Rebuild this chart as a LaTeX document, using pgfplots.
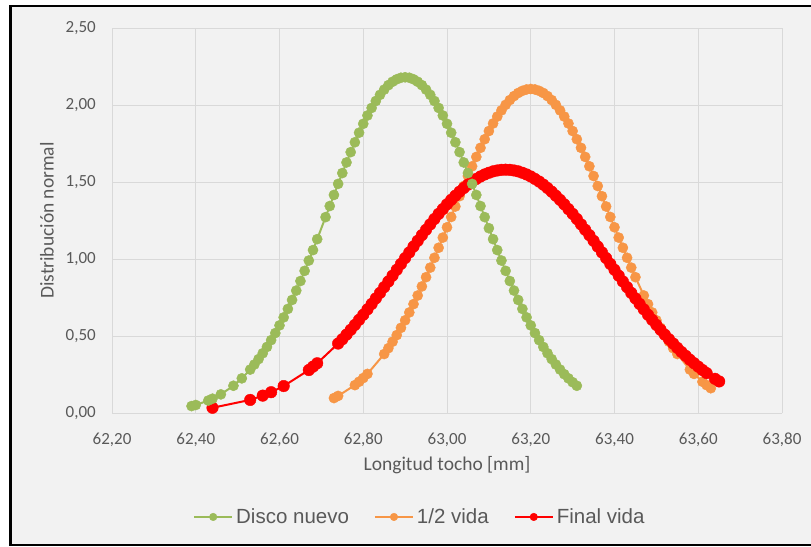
\documentclass[border=0pt]{standalone}
\usepackage{fontspec}
\setmainfont{Carlito}
\newfontfamily\legendfont{Liberation Sans}
\usepackage{pgfplots}
\pgfplotsset{compat=1.18}

\definecolor{grn}{HTML}{9BBB59}
\definecolor{org}{HTML}{F79646}
\definecolor{rd}{HTML}{FF0000}
\definecolor{bgc}{HTML}{F2F2F2}
\definecolor{gridc}{HTML}{D9D9D9}
\definecolor{txt}{HTML}{595959}

\pgfplotsset{
  sgreen/.style={color=grn, line width=2bp, mark=*, mark size=5.1bp, mark options={line width=0.4bp}},
  sorange/.style={color=org, line width=2bp, mark=*, mark size=5.1bp, mark options={line width=0.4bp}},
  sred/.style={color=rd, line width=2bp, mark=*, mark size=5.8bp, mark options={line width=0.4bp}},
}

\begin{document}
\begin{tikzpicture}
\fill[white] (0bp,0bp) rectangle (811bp,-547bp);
\fill[bgc] (10bp,-6bp) rectangle (850bp,-545bp);
\begin{axis}[
  at={(112bp,-413bp)}, anchor=south west,
  scale only axis, width=670bp, height=385bp,
  xmin=62.2, xmax=63.8, ymin=0, ymax=2.5,
  xtick={62.2,62.4,62.6,62.8,63,63.2,63.4,63.6,63.8},
  ytick={0,0.5,1,1.5,2,2.5},
  grid=major,
  major grid style={draw=gridc, line width=0.9bp},
  axis line style={draw=none},
  major tick length=0pt,
  /pgf/number format/fixed,
  /pgf/number format/fixed zerofill,
  /pgf/number format/precision=2,
  /pgf/number format/use comma,
  /pgf/number format/1000 sep={},
  /pgf/number format/assume math mode=true,
  tick label style={font=\fontsize{17bp}{20bp}\selectfont, text=txt},
  xticklabel style={anchor=north, inner sep=0pt, yshift=-19.5bp},
  yticklabel style={anchor=east, inner sep=0pt, xshift=-16bp},
  xlabel={Longitud tocho [mm]},
  ylabel={Distribución normal},
  label style={font=\fontsize{19.5bp}{23bp}\selectfont, text=txt},
  xlabel style={at={(axis description cs:0.5,-0.135)}, anchor=center},
  ylabel style={at={(axis description cs:-0.097,0.5)}, anchor=center},
  legend style={draw=none, fill=none, at={(0.458,-0.270)}, anchor=center,
    legend columns=-1, font=\legendfont\fontsize{20.5bp}{24bp}\selectfont,
    text=txt, inner sep=0pt, nodes={inner sep=0pt},
    /tikz/every odd column/.append style={column sep=3bp},
    /tikz/every even column/.append style={column sep=25bp}},
  legend image code/.code={
    \draw[mark repeat=2, mark phase=2, #1, mark size=3.8bp]
      plot coordinates {(0bp,0bp) (19bp,0bp) (38bp,0bp)};},
]

% 1/2 vida
\addplot[sorange, forget plot] coordinates {
(62.73,0.097) (62.74,0.111) (62.78,0.181) (62.79,0.203) (62.80,0.227) (62.81,0.254)
(62.85,0.383) (62.86,0.421) (62.87,0.463) (62.88,0.506) (62.89,0.553) (62.90,0.602)
(62.91,0.653) (62.92,0.707) (62.93,0.763) (62.94,0.822) (62.95,0.882) (62.96,0.944)
(62.97,1.008) (62.98,1.073) (62.99,1.139) (63.00,1.206) (63.01,1.273) (63.02,1.341)
(63.03,1.408) (63.04,1.474) (63.05,1.539) (63.06,1.602) (63.07,1.663) (63.08,1.722)
(63.09,1.778) (63.10,1.831) (63.11,1.880) (63.12,1.925) (63.13,1.965) (63.14,2.001)
(63.15,2.032) (63.16,2.058) (63.17,2.078) (63.18,2.092) (63.19,2.101) (63.20,2.104)
(63.21,2.101) (63.22,2.092) (63.23,2.078) (63.24,2.058) (63.25,2.032) (63.26,2.001)
(63.27,1.965) (63.28,1.925) (63.29,1.880) (63.30,1.831) (63.31,1.778) (63.32,1.722)
(63.33,1.663) (63.34,1.602) (63.35,1.539) (63.36,1.474) (63.37,1.408) (63.38,1.341)
(63.39,1.273) (63.40,1.206) (63.41,1.139) (63.42,1.073) (63.43,1.008) (63.44,0.944)
(63.45,0.882) (63.47,0.763) (63.48,0.707) (63.49,0.653) (63.50,0.602) (63.51,0.553)
(63.52,0.506) (63.53,0.463) (63.54,0.421) (63.55,0.383) (63.58,0.282) (63.59,0.254)
(63.61,0.203) (63.62,0.181) (63.63,0.161)
};

% Final vida
\addplot[sred, forget plot] coordinates {
(62.44,0.034) (62.53,0.085) (62.56,0.113) (62.58,0.135) (62.61,0.175) (62.67,0.279)
(62.68,0.301) (62.69,0.323) (62.74,0.451) (62.75,0.479) (62.76,0.509) (62.77,0.540)
(62.78,0.572) (62.79,0.605) (62.80,0.638) (62.81,0.673) (62.82,0.708) (62.83,0.744)
(62.84,0.780) (62.85,0.817) (62.86,0.854) (62.87,0.892) (62.88,0.930) (62.89,0.968)
(62.90,1.006) (62.91,1.043) (62.92,1.081) (62.93,1.118) (62.94,1.155) (62.95,1.190)
(62.96,1.225) (62.97,1.260) (62.98,1.293) (62.99,1.324) (63.00,1.355) (63.01,1.384)
(63.02,1.411) (63.03,1.437) (63.04,1.461) (63.05,1.483) (63.06,1.503) (63.07,1.520)
(63.08,1.536) (63.09,1.549) (63.10,1.560) (63.11,1.569) (63.12,1.575) (63.13,1.579)
(63.14,1.580) (63.15,1.579) (63.16,1.575) (63.17,1.569) (63.18,1.560) (63.19,1.549)
(63.20,1.536) (63.21,1.520) (63.22,1.503) (63.23,1.483) (63.24,1.461) (63.25,1.437)
(63.26,1.411) (63.27,1.384) (63.28,1.355) (63.29,1.324) (63.30,1.293) (63.31,1.260)
(63.32,1.225) (63.33,1.190) (63.34,1.155) (63.35,1.118) (63.36,1.081) (63.37,1.043)
(63.38,1.006) (63.39,0.968) (63.40,0.930) (63.41,0.892) (63.42,0.854) (63.43,0.817)
(63.44,0.780) (63.45,0.744) (63.46,0.708) (63.47,0.673) (63.48,0.638) (63.49,0.605)
(63.50,0.572) (63.51,0.540) (63.52,0.509) (63.53,0.479) (63.54,0.451) (63.55,0.423)
(63.56,0.396) (63.57,0.371) (63.58,0.346) (63.59,0.323) (63.60,0.301) (63.61,0.279)
(63.62,0.259) (63.64,0.222) (63.65,0.205)
};

% Disco nuevo
\addplot[sgreen, forget plot] coordinates {
(62.39,0.045) (62.40,0.052) (62.43,0.081) (62.44,0.093) (62.46,0.121) (62.49,0.177)
(62.51,0.225) (62.53,0.282) (62.54,0.315) (62.55,0.350) (62.56,0.388) (62.57,0.429)
(62.58,0.473) (62.59,0.519) (62.60,0.569) (62.61,0.621) (62.62,0.676) (62.63,0.734)
(62.64,0.795) (62.65,0.857) (62.66,0.923) (62.67,0.990) (62.68,1.058) (62.69,1.129)
(62.71,1.272) (62.72,1.344) (62.73,1.416) (62.74,1.488) (62.75,1.558) (62.76,1.627)
(62.77,1.694) (62.78,1.758) (62.79,1.820) (62.80,1.878) (62.81,1.932) (62.82,1.981)
(62.83,2.026) (62.84,2.066) (62.85,2.100) (62.86,2.129) (62.87,2.151) (62.88,2.167)
(62.89,2.177) (62.90,2.180) (62.91,2.177) (62.92,2.167) (62.93,2.151) (62.94,2.129)
(62.95,2.100) (62.96,2.066) (62.97,2.026) (62.98,1.981) (62.99,1.932) (63.00,1.878)
(63.01,1.820) (63.02,1.758) (63.03,1.694) (63.04,1.627) (63.05,1.558) (63.06,1.488)
(63.07,1.416) (63.08,1.344) (63.09,1.272) (63.10,1.200) (63.11,1.129) (63.12,1.058)
(63.13,0.990) (63.14,0.923) (63.15,0.857) (63.16,0.795) (63.17,0.734) (63.18,0.676)
(63.19,0.621) (63.20,0.569) (63.21,0.519) (63.22,0.473) (63.23,0.429) (63.24,0.388)
(63.25,0.350) (63.26,0.315) (63.27,0.282) (63.28,0.252) (63.29,0.225) (63.30,0.200)
(63.31,0.177)
};

\addlegendimage{sgreen}
\addlegendentry{Disco nuevo}
\addlegendimage{sorange}
\addlegendentry{1/2 vida}
\addlegendimage{sred}
\addlegendentry{Final vida}
\end{axis}
\draw[black, line width=2.5bp] (10.5bp,-6bp) rectangle (850bp,-545bp);
\pgfresetboundingbox
\path[use as bounding box] (0bp,0bp) rectangle (811bp,-547bp);
\end{tikzpicture}
\end{document}
